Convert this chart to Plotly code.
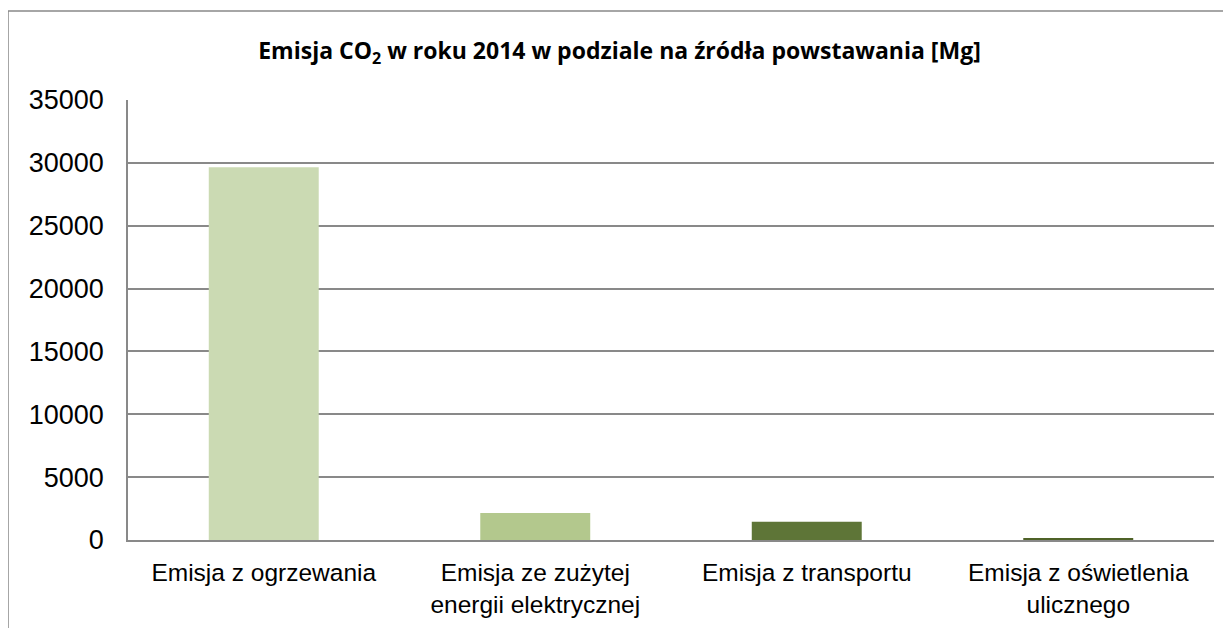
import plotly.graph_objects as go

categories = [
    "Emisja z ogrzewania",
    "Emisja ze zużytej<br>energii elektrycznej",
    "Emisja z transportu",
    "Emisja z oświetlenia<br>ulicznego",
]
values = [29650, 2150, 1450, 160]
colors = ["#CBDAB3", "#B3C88D", "#5E7537", "#4F6228"]
y_ticks = [0, 5000, 10000, 15000, 20000, 25000, 30000, 35000]

OFF = 8  # page body margin
W, H = 1231 - OFF, 628 - OFF
L, R, T, B = 128 - OFF, 17, 100 - OFF, 628 - 540
pw, ph = W - L - R, H - T - B

fig = go.Figure(go.Bar(
    x=categories, y=values, marker=dict(color=colors, line=dict(width=0)),
    hoverinfo="x+y",
))

fig.update_layout(
    width=W, height=H,
    margin=dict(l=L, r=R, t=T, b=B, autoexpand=False),
    paper_bgcolor="white", plot_bgcolor="white",
    bargap=0.595,
    showlegend=False,
    title=dict(
        text="<b>Emisja CO<sub>2</sub> w roku 2014 w podziale na źródła powstawania [Mg]</b>",
        x=0.5, xanchor="center", xref="container",
        y=1 - (51 - OFF) / H, yanchor="middle", yref="container",
        font=dict(family="Open Sans, Liberation Sans, sans-serif", size=23, color="#000000"),
    ),
    xaxis=dict(
        showline=True, linecolor="#898989", linewidth=1.5,
        showgrid=False, ticks="", ticklabelstandoff=10,
        tickfont=dict(family="Liberation Sans, Arial, sans-serif", size=24.5, color="#000000"),
        fixedrange=True,
    ),
    yaxis=dict(
        range=[0, 35000], tickvals=y_ticks, ticktext=[str(v) for v in y_ticks],
        showline=True, linecolor="#898989", linewidth=1.5,
        showgrid=True, gridcolor="#898989", gridwidth=1.5,
        zeroline=False, ticks="", ticklabelstandoff=17,
        tickfont=dict(family="Liberation Sans, Arial, sans-serif", size=27, color="#000000"),
        fixedrange=True,
    ),
    shapes=[dict(
        type="rect", xref="paper", yref="paper",
        x0=(8 - 128) / pw, x1=(1231 + 20 - 128) / pw,
        y0=-(B + 20) / ph, y1=(540 - 11) / ph,
        line=dict(color="#898989", width=1.5), fillcolor="rgba(0,0,0,0)", layer="below",
    )],
)

fig.write_html("out.html")
